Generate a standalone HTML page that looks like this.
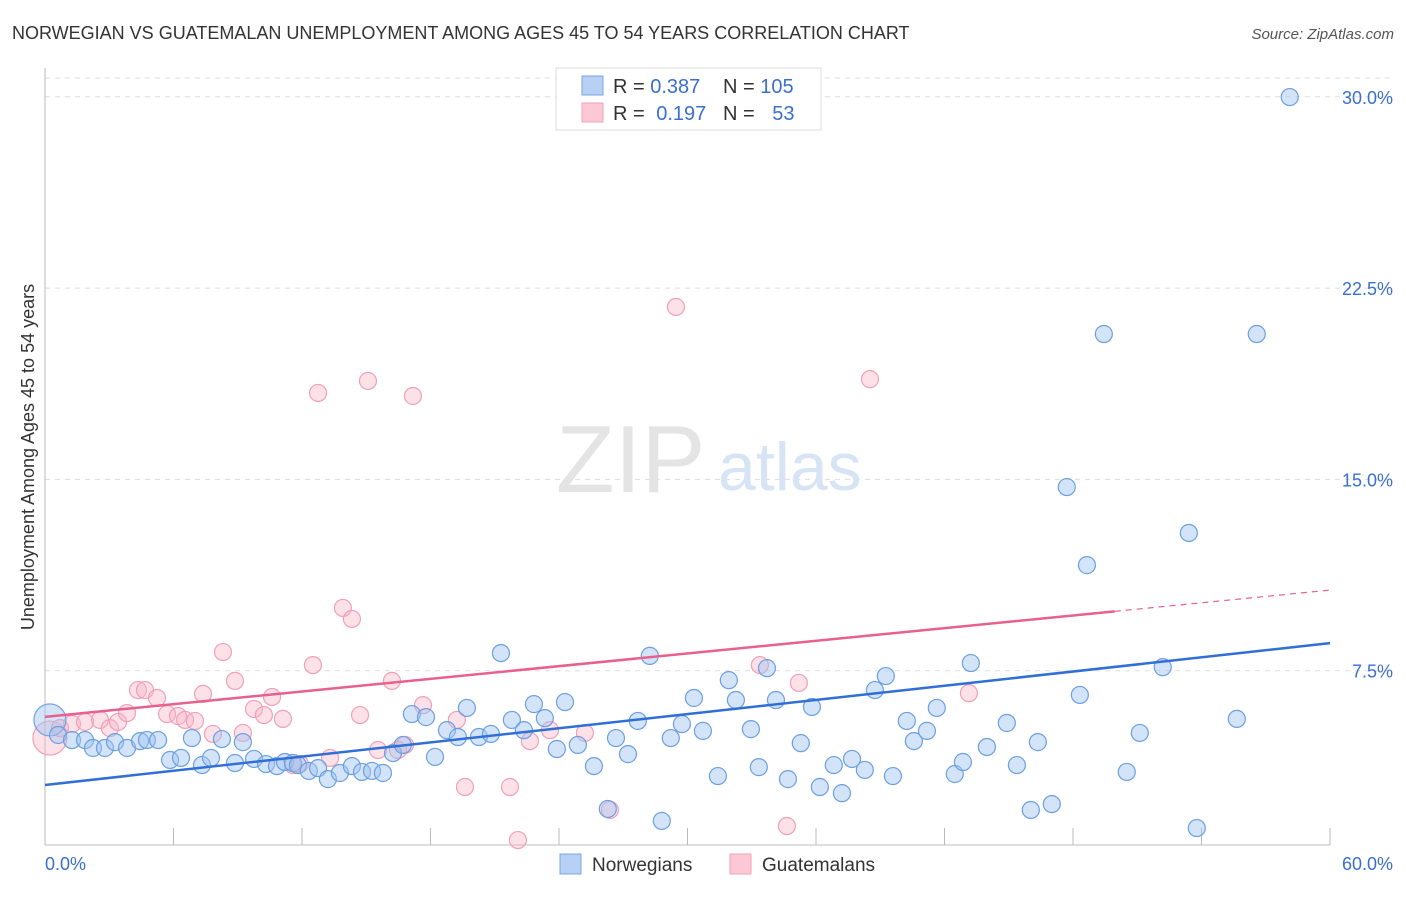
<!DOCTYPE html>
<html><head><meta charset="utf-8"><style>
body{margin:0;background:#fff;font-family:"Liberation Sans",sans-serif;}
svg text{font-family:"Liberation Sans",sans-serif;}
</style></head><body>
<svg id="chart" width="1406" height="892" xmlns="http://www.w3.org/2000/svg">
<text x="12" y="39" font-size="18" fill="#333">NORWEGIAN VS GUATEMALAN UNEMPLOYMENT AMONG AGES 45 TO 54 YEARS CORRELATION CHART</text>
<text x="1394" y="39" font-size="15" fill="#555" font-style="italic" text-anchor="end">Source: ZipAtlas.com</text>
<text transform="translate(34,457) rotate(-90)" font-size="18" fill="#333" text-anchor="middle">Unemployment Among Ages 45 to 54 years</text>
<g id="grid"></g>
<text x="556" y="492" font-size="96" fill="#e4e4e4" font-family="Liberation Serif">ZIP</text>
<text x="718" y="490" font-size="68" fill="#d6e4f6">atlas</text>
<g id="axes"></g>
<g id="points"></g>
<g id="lines"></g>
<g>
<rect x="556" y="68" width="265" height="62" fill="#fff" stroke="#ddd"/>
<rect x="582" y="76" width="21" height="19" fill="#b7d0f4" stroke="#7aa6e6"/>
<rect x="582" y="103" width="21" height="19" fill="#fcc8d6" stroke="#f0a2b8"/>
<text x="613" y="93" font-size="20" fill="#333">R = <tspan fill="#3a6fd0">0.387</tspan></text>
<text x="723" y="93" font-size="20" fill="#333">N = <tspan fill="#3a6fd0">105</tspan></text>
<text x="613" y="120" font-size="20" fill="#333">R = <tspan fill="#3a6fd0" dx="6">0.197</tspan></text>
<text x="723" y="120" font-size="20" fill="#333">N = <tspan fill="#3a6fd0" dx="12">53</tspan></text>
</g>
<g>
<rect x="560" y="854" width="21" height="20" fill="#b7d0f4" stroke="#7aa6e6"/>
<text x="592" y="871" font-size="19" fill="#333">Norwegians</text>
<rect x="730" y="854" width="21" height="20" fill="#fcc8d6" stroke="#f0a2b8"/>
<text x="762" y="871" font-size="19" fill="#333">Guatemalans</text>
</g>
</svg>
<script>
const blueX=[0.23,0.61,1.26,1.87,2.24,2.80,3.27,3.83,4.44,4.76,5.28,5.84,6.35,6.86,7.33,7.75,8.26,8.87,9.24,9.76,10.32,10.83,11.20,11.58,11.81,12.32,12.75,13.21,13.77,14.33,14.80,15.27,15.78,16.25,16.71,17.13,17.79,18.21,18.77,19.28,19.70,20.26,20.82,21.29,21.80,22.36,22.83,23.34,23.90,24.28,24.88,25.63,26.28,26.66,27.22,27.68,28.24,28.80,29.22,29.74,30.30,30.72,31.42,31.93,32.26,32.96,33.33,33.71,34.13,34.69,35.29,35.81,36.18,36.83,37.21,37.68,38.28,38.75,39.26,39.59,40.24,40.57,41.18,41.64,42.48,42.86,43.23,43.98,44.91,45.38,46.03,46.36,47.01,47.71,48.32,48.65,49.44,50.51,51.12,52.19,53.41,53.78,55.65,56.58,58.12];
const blueY=[5.57,4.98,4.78,4.78,4.47,4.47,4.70,4.47,4.74,4.78,4.78,4.00,4.08,4.86,3.80,4.08,4.82,3.88,4.70,4.04,3.84,3.76,3.92,3.88,3.80,3.57,3.68,3.25,3.49,3.76,3.53,3.57,3.49,4.27,4.59,5.80,5.68,4.12,5.17,4.90,6.04,4.90,5.02,8.19,5.57,5.17,6.19,5.64,4.43,6.27,4.59,3.76,2.08,4.86,4.23,5.53,8.08,1.61,4.86,5.41,6.43,5.14,3.37,7.13,6.35,5.21,3.72,7.60,6.35,3.25,4.66,6.08,2.94,3.80,2.70,4.04,3.61,6.74,7.29,3.37,5.53,4.74,5.14,6.04,3.45,3.92,7.80,4.51,5.45,3.80,2.04,4.70,2.27,14.70,6.55,11.64,20.70,3.53,5.06,7.64,12.90,1.33,5.61,20.70,29.99];
const pinkX=[0.23,0.70,1.26,1.87,2.57,3.03,3.41,3.83,4.34,4.67,5.23,5.70,6.21,6.54,7.00,7.38,7.84,8.31,8.87,9.24,9.76,10.22,10.60,11.11,11.58,11.90,12.51,12.75,13.31,13.91,14.33,14.71,15.08,15.55,16.20,16.48,16.81,17.18,17.65,19.23,19.61,21.71,22.08,22.64,23.58,25.21,26.38,29.46,33.38,34.64,35.20,38.52,43.14];
const pinkY=[4.86,5.25,5.41,5.49,5.57,5.25,5.49,5.84,6.74,6.74,6.43,5.80,5.72,5.57,5.53,6.59,5.02,8.23,7.10,5.06,6.00,5.76,6.47,5.61,3.80,3.84,7.72,18.39,4.08,9.96,9.53,5.76,18.86,4.39,7.10,4.39,4.59,18.27,6.15,5.57,2.94,2.94,0.86,4.74,5.17,5.06,2.04,21.76,7.72,1.41,7.02,18.93,6.62];
const blueTrend=[3.02,8.58];
const pinkTrend=[5.69,10.66];
const pinkSolidEnd=49.95;
const yTicks=[7.5,15,22.5,30];
const yTickLabels=["7.5%","15.0%","22.5%","30.0%"];
const xTicks=[0,6,12,18,24,30,36,42,48,54,60];

const NS="http://www.w3.org/2000/svg";
const X=v=>45+v*1285/60;
const Y=v=>862-v*191.3/7.5;
function mk(tag,attrs,parent){const e=document.createElementNS(NS,tag);for(const k in attrs)e.setAttribute(k,attrs[k]);parent.appendChild(e);return e;}
const grid=document.getElementById('grid'),axes=document.getElementById('axes'),pts=document.getElementById('points'),lines=document.getElementById('lines');
const tl=mk('line',{x1:45,x2:1393,y1:78,y2:78,stroke:'#ddd','stroke-dasharray':'5,5'},grid);


yTicks.forEach((t,i)=>{
 const g=mk('line',{x1:45,x2:1393,y1:Y(t),y2:Y(t),stroke:'#ddd','stroke-dasharray':'5,5'},grid);
 
 
 const lb=mk('text',{x:1393,y:Y(t)+7,'font-size':18,fill:'#3a6fd0','text-anchor':'end'},axes);
 lb.textContent=yTickLabels[i];
 
 
});
const ax=mk('line',{x1:45,x2:45,y1:68,y2:845,stroke:'#bbb'},axes);


const bx=mk('line',{x1:45,x2:1330,y1:845,y2:845,stroke:'#bbb'},axes);


xTicks.forEach(t=>{
 const k=mk('line',{x1:X(t),x2:X(t),y1:828,y2:845,stroke:'#bbb'},axes);
 
 
});
const xl0=mk('text',{x:45,y:870,'font-size':18,fill:'#3a6fd0'},axes);xl0.textContent=xTicks[0].toFixed(1)+'%';


const xl1=mk('text',{x:1393,y:870,'font-size':18,fill:'#3a6fd0','text-anchor':'end'},axes);xl1.textContent=xTicks[xTicks.length-1].toFixed(1)+'%';



pinkX.forEach((x,i)=>{
 const c=mk('circle',{cx:X(x),cy:Y(pinkY[i]),r:i===0?17:8.5,fill:'rgba(248,180,200,0.4)',stroke:'#f0a0b8','stroke-width':1.2},pts);
 
 
});
blueX.forEach((x,i)=>{
 const c=mk('circle',{cx:X(x),cy:Y(blueY[i]),r:i===0?16:8.5,fill:'rgba(160,196,240,0.45)',stroke:'#6c9fe2','stroke-width':1.2},pts);
 
 
});
const bl=mk('line',{x1:X(0),y1:Y(blueTrend[0]),x2:X(60),y2:Y(blueTrend[1]),stroke:'#2f6fd6','stroke-width':2.5},lines);


const pAt=x=>pinkTrend[0]+(pinkTrend[1]-pinkTrend[0])*x/60;
const pl=mk('line',{x1:X(0),y1:Y(pAt(0)),x2:X(pinkSolidEnd),y2:Y(pAt(pinkSolidEnd)),stroke:'#e8608e','stroke-width':2.5},lines);


const pd=mk('line',{x1:X(pinkSolidEnd),y1:Y(pAt(pinkSolidEnd)),x2:X(60),y2:Y(pAt(60)),stroke:'#e8608e','stroke-width':1.2,'stroke-dasharray':'6,5'},lines);


</script>
</body></html>
